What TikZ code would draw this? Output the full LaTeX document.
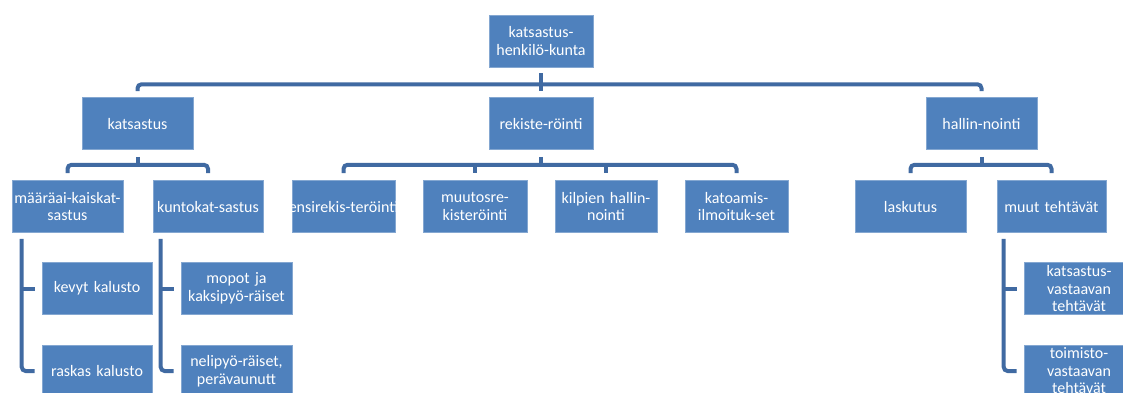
\documentclass[tikz,border=0pt]{standalone}
\usepackage{fontspec}
\setmainfont{Carlito}
\usetikzlibrary{calc}

\definecolor{boxblue}{HTML}{4F81BD}
\definecolor{lineblue}{RGB}{64,106,162}

\begin{document}
\begin{tikzpicture}[x=1pt, y=-1pt,
    orgbox/.style={fill=boxblue, draw=boxblue!70!white, line width=0.6pt,
      text=white, inner sep=0pt, minimum height=52pt, align=center,
      font=\fontsize{16}{17.5}\selectfont},
    link/.style={draw=lineblue, line width=4pt, rounded corners=4pt}]
  \useasboundingbox (0,0) rectangle (1123,392);
  \clip (0,0) rectangle (1123,392);

  % Top
  \node[orgbox, text width=104pt] (root) at (541,41) {katsastus-\\henkilö-kunta};

  % Second level
  \node[orgbox, text width=111pt] (kats) at (137.5,123.5) {katsastus};
  \node[orgbox, text width=104pt] (rek) at (541,123.5) {rekiste-röinti};
  \node[orgbox, text width=111pt] (hall) at (981.5,123.5) {hallin-nointi};

  % Third level
  \node[orgbox, text width=111pt] (maar) at (67.5,206.5) {määräai-kaiskat-\\sastus};
  \node[orgbox, text width=110pt] (kunto) at (208,206.5) {kuntokat-sastus};
  \node[orgbox, text width=103pt] (ensi) at (343.5,206.5) {\makebox[103pt]{ensirekis-teröinti}};
  \node[orgbox, text width=104pt] (muutos) at (475,206.5) {muutosre-\\kisteröinti};
  \node[orgbox, text width=102pt] (kilp) at (606,206.5) {kilpien hallin-\\nointi};
  \node[orgbox, text width=103pt] (katoam) at (736.5,206.5) {katoamis-\\ilmoituk-set};
  \node[orgbox, text width=111pt] (lask) at (910.5,206.5) {laskutus};
  \node[orgbox, text width=109pt] (muut) at (1051.5,206.5) {muut tehtävät};

  % Fourth level
  \node[orgbox, text width=110pt] (kev) at (97,288.5) {kevyt kalusto};
  \node[orgbox, text width=110pt] (rask) at (97,371) {raskas kalusto};
  \node[orgbox, text width=111pt] (mop) at (236.5,288.5) {mopot ja\\kaksipyö-räiset};
  \node[orgbox, text width=111pt] (neli) at (236.5,371) {nelipyö-räiset,\\perävaunutt};
  \node[orgbox, text width=110pt] (kvast) at (1079,288.5) {katsastus-\\vastaavan\\tehtävät};
  \node[orgbox, text width=110pt] (tvast) at (1079,371) {toimisto-\\vastaavan\\tehtävät};

  % Connectors, top to second level
  \coordinate (tbar) at ($(root.south)+(0,17)$);
  \draw[link] ($(root.south)+(0,6)$) -- ($(rek.north)+(0,-6)$);
  \draw[link] ($(kats.north)+(0,-6)$) |- (tbar) -| ($(hall.north)+(0,-6)$);

  % katsastus
  \coordinate (kbar) at ($(kats.south)+(0,15)$);
  \draw[link] ($(kats.south)+(0,7)$) -- (kbar);
  \draw[link] ($(maar.north)+(0,-7)$) |- (kbar) -| ($(kunto.north)+(0,-7)$);

  % rekisterointi
  \coordinate (rbar) at ($(rek.south)+(0,15)$);
  \draw[link] ($(rek.south)+(0,7)$) -- (rbar);
  \draw[link] ($(ensi.north)+(0,-7)$) |- (rbar) -| ($(katoam.north)+(0,-7)$);
  \draw[link] (muutos.north |- rbar) -- ($(muutos.north)+(0,-7)$);
  \draw[link] (kilp.north |- rbar) -- ($(kilp.north)+(0,-7)$);

  % hallinnointi
  \coordinate (hbar) at ($(hall.south)+(0,15)$);
  \draw[link] ($(hall.south)+(0,7)$) -- (hbar);
  \draw[link] ($(lask.north)+(0,-7)$) |- (hbar) -| ($(muut.north)+(0,-7)$);

  % Fourth level brackets
  \coordinate (mtr) at ($(kev.west)+(-20,0)$);
  \draw[link] ($(mtr |- maar.south)+(0,6)$) |- ($(rask.west)+(-7,0)$);
  \draw[link] (mtr) -- ($(kev.west)+(-7,0)$);

  \coordinate (ktr) at ($(mop.west)+(-20,0)$);
  \draw[link] ($(ktr |- kunto.south)+(0,6)$) |- ($(neli.west)+(-7,0)$);
  \draw[link] (ktr) -- ($(mop.west)+(-7,0)$);

  \coordinate (utr) at ($(kvast.west)+(-20,0)$);
  \draw[link] ($(utr |- muut.south)+(0,6)$) |- ($(tvast.west)+(-7,0)$);
  \draw[link] (utr) -- ($(kvast.west)+(-7,0)$);
\end{tikzpicture}
\end{document}
